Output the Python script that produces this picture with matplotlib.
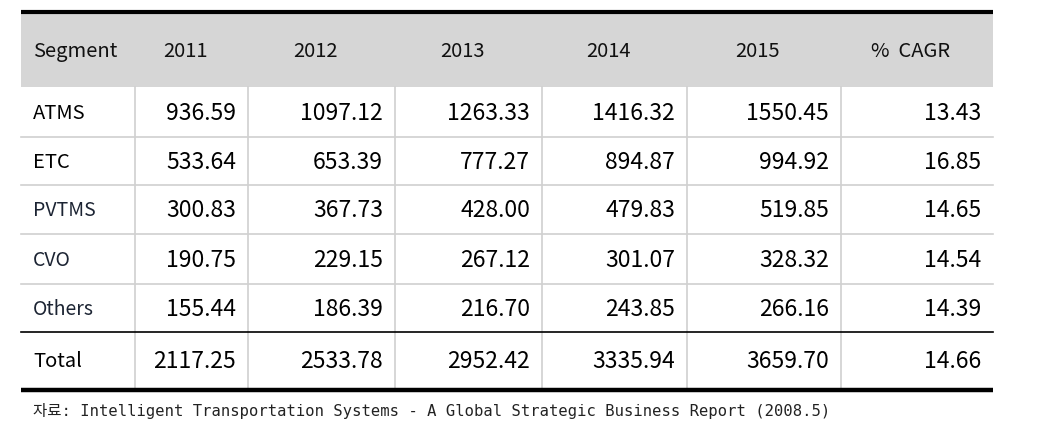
import matplotlib
matplotlib.use("Agg")
import matplotlib.pyplot as plt

segments = ["ATMS", "ETC", "PVTMS", "CVO", "Others", "Total"]
years = ["2011", "2012", "2013", "2014", "2015"]
values = [
    [936.59, 1097.12, 1263.33, 1416.32, 1550.45],
    [533.64, 653.39, 777.27, 894.87, 994.92],
    [300.83, 367.73, 428.00, 479.83, 519.85],
    [190.75, 229.15, 267.12, 301.07, 328.32],
    [155.44, 186.39, 216.70, 243.85, 266.16],
    [2117.25, 2533.78, 2952.42, 3335.94, 3659.70],
]
cagr = [13.43, 16.85, 14.65, 14.54, 14.39, 14.66]
source = "자료: Intelligent Transportation Systems - A Global Strategic Business Report (2008.5)"

font_main = ["Noto Sans CJK KR", "DejaVu Sans"]

#--------------------------------------------------------------------------#
# layout in pixels
W, H = 1038, 436
left, right = 21, 993
col_edges = [left, 135, 248, 395, 542, 687, 841, right]
row_edges = [14, 87, 137, 185, 234, 284, 332, 389]

fig = plt.figure(figsize=(W / 100, H / 100), dpi=100)
ax = fig.add_axes([0, 0, 1, 1])
ax.set_xlim(0, W)
ax.set_ylim(H, 0)
ax.axis("off")

# header band
ax.fill_between([left, right], row_edges[0], row_edges[1], color="#d6d6d6", lw=0)

# grid lines
grid = "#d0d0d0"
for x in col_edges[1:-1]:
    ax.plot([x, x], [row_edges[1], row_edges[-1]], color=grid, lw=1.2)
for y in row_edges[2:-2]:
    ax.plot([left, right], [y, y], color=grid, lw=1.2)
ax.plot([left, right], [row_edges[-2], row_edges[-2]], color="black", lw=1.2)
ax.plot([left, right], [12, 12], color="black", lw=3, solid_capstyle="butt")
ax.plot([left, right], [390, 390], color="black", lw=3.2, solid_capstyle="butt")

# header text
header = ["Segment"] + years + ["%  CAGR"]
ymid = (row_edges[0] + row_edges[1]) / 2 + 1
ax.text(33, ymid, header[0], ha="left", va="center", fontsize=14.5,
        family=font_main, color="#111")
for i, h in enumerate(header[1:]):
    xc = (col_edges[i + 1] + col_edges[i + 2]) / 2 - 6
    ax.text(xc, ymid, h, ha="center", va="center", fontsize=14.5,
            family=font_main, color="#111")

# body
for r, seg in enumerate(segments):
    yc = (row_edges[r + 1] + row_edges[r + 2]) / 2 + 1
    if seg in ("PVTMS", "CVO", "Others"):
        ax.text(33, yc, seg, ha="left", va="center", fontsize=14,
                family=font_main, color="#1c2433")
    else:
        ax.text(33, yc, seg, ha="left", va="center", fontsize=14.5,
                family=font_main, color="black")
    row = values[r] + [cagr[r]]
    for c, v in enumerate(row):
        xr = col_edges[c + 2] - 12
        ax.text(xr, yc, "%.2f" % v, ha="right", va="center", fontsize=16.5,
                family=font_main, color="black")

ax.text(33, 411, source, ha="left", va="center", fontsize=11.2,
        family=["DejaVu Sans Mono", "Noto Sans CJK KR"], color="#222")

fig.savefig("out.png", dpi=100)
